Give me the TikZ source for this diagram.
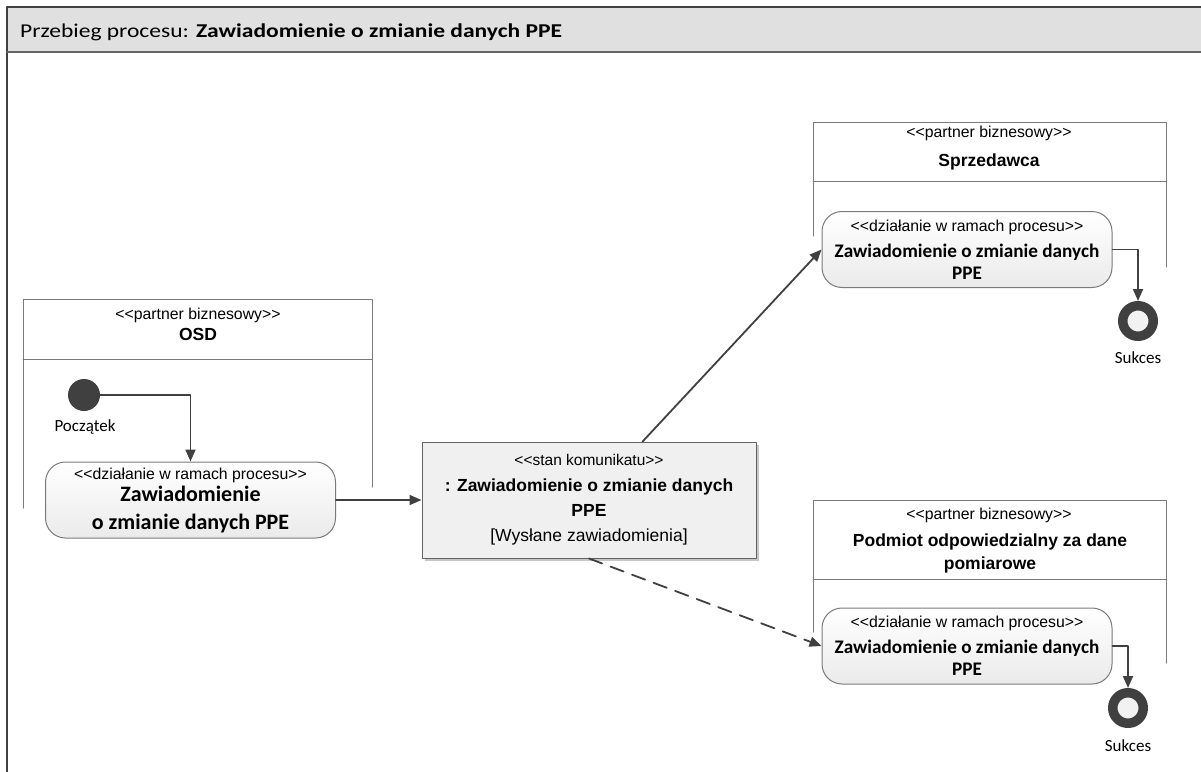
\documentclass[tikz,border=0pt]{standalone}
\usepackage{fontspec}
\setmainfont{Carlito}
\newfontfamily\arialfont{Liberation Sans}
\newfontfamily\titlefont[FakeStretch=1.2]{Carlito}
\usetikzlibrary{arrows.meta,calc,positioning,shadows}
\definecolor{bpline}{HTML}{404040}
\definecolor{bpgrey}{HTML}{7A7A7A}
\definecolor{bphead}{HTML}{E0E0E0}
\definecolor{bpmsg}{HTML}{F0F0F0}
\newcommand\bpstereo{\arialfont\mdseries\fontsize{15.8}{19}\selectfont}
\newcommand\bpname{\arialfont\bfseries\fontsize{17.5}{23}\selectfont}
\newcommand\bpact{\bfseries\fontsize{19.2}{22}\selectfont}
\tikzset{
  every picture/.append style={line cap=round,line join=round},
  bp frame/.style={draw=bpline,line width=1.6pt},
  bp lane/.style={draw=bpgrey,line width=1pt},
  bp action/.style={draw=bpgrey,line width=1pt,rounded corners=20pt,top color=white,
    bottom color=black!8,align=center,inner sep=0pt,minimum width=290pt,minimum height=76pt,
    font=\bpact},
  bp message/.style={draw=bpgrey!80!black,line width=1pt,fill=bpmsg,align=center,inner sep=0pt,
    minimum width=334pt,minimum height=116pt,font=\arialfont\fontsize{15.5}{25}\selectfont,
    drop shadow={shadow xshift=3pt,shadow yshift=-3pt,fill=black!22,opacity=1}},
  bp initial/.style={circle,fill=bpline,minimum size=32pt,inner sep=0pt},
  bp final/.style={circle,draw=bpline,line width=9.5pt,fill=black!5,minimum size=30.5pt,inner sep=0pt},
  bp flow/.style={draw=bpline,line width=1.8pt,-{Triangle[length=12pt,width=10pt]}},
  bp note/.style={font=\fontsize{17}{20}\selectfont,inner sep=0pt},
  bp label/.style={align=center,inner sep=0pt}
}

\begin{document}
\begin{tikzpicture}[x=1pt,y=-1pt]
  \useasboundingbox (0,0) rectangle (1201,771);
  % frame with title band
  \fill[bphead] (7,7) rectangle (1210,52);
  \draw[bp frame] (7,790) -- (7,7) -- (1210,7);
  \draw[bp frame,draw=bpline!80] (7,52) -- (1210,52);
  \node[anchor=base west,inner sep=0pt,font=\titlefont\fontsize{19.6}{22}\selectfont] (title) at (20,37)
    {Przebieg procesu: \textbf{Zawiadomienie o zmianie danych PPE}};

  % partitions: left x / right x / top y / divider y / left end / right end
  \foreach \xl/\xr/\yt/\yd/\el/\er in {23/372/299/359/508/487,
      813/1166/122/181/236/267, 813/1166/500/579/632/663} {
    \draw[bp lane] (\xl,\el) -- (\xl,\yt) -- (\xr,\yt) -- (\xr,\er);
    \draw[bp lane] (\xl,\yd) -- (\xr,\yd);
  }
  \node[bp label,font=\bpstereo] (osdst) at (198,315) {<<partner biznesowy>>};
  \node[bp label,font=\bpname] (osdname) at (198,334) {OSD};
  \node[bp label,font=\bpstereo] (sprzst) at (989,133) {<<partner biznesowy>>};
  \node[bp label,font=\bpname] (sprzname) at (989,162) {Sprzedawca};
  \node[bp label,font=\bpstereo] (podst) at (989,515) {<<partner biznesowy>>};
  \node[bp label,font=\bpname] (podname) at (990,553.5) {Podmiot odpowiedzialny za dane\\pomiarowe};

  % nodes
  \node[bp initial] (start) at (84,395) {};
  \node[bp note] (startlab) at (85,427) {Początek};
  \node[bp action,font=\bfseries\fontsize{22}{28}\selectfont] (osdact) at (190.5,500)
    {{\bpstereo <<działanie w ramach procesu>>}\\[-6pt]
     Zawiadomienie\\o zmianie danych PPE};
  \node[bp message] (msg) at (589,500)
    {<<stan komunikatu>>\\[1pt]
     {\bpname : Zawiadomienie o zmianie danych}\\{\bpname PPE}\\
     {\fontsize{17.5}{25}\selectfont [Wysłane zawiadomienia]}};
  \node[bp action] (sprzact) at (967,249.5)
    {{\bpstereo <<działanie w ramach procesu>>}\\[4pt]
     Zawiadomienie o zmianie danych\\PPE};
  \node[bp action] (podact) at (967,646)
    {{\bpstereo <<działanie w ramach procesu>>}\\[4pt]
     Zawiadomienie o zmianie danych\\PPE};
  \node[bp final] (sprzend) at (1138,321) {};
  \node[bp note] (sprzendlab) at (1138,358) {Sukces};
  \node[bp final] (podend) at (1128,708) {};
  \node[bp note] (podendlab) at (1128,746) {Sukces};

  % flows
  \draw[bp flow] (start) -| (osdact);
  \draw[bp flow] (osdact) -- (msg);
  \draw[bp flow] ($(msg.north west)!0.66!(msg.north east)$) -- (sprzact.west);
  \draw[bp flow,dash pattern=on 14pt off 9pt] (msg.south) -- (podact.west);
  \draw[bp flow] (sprzact.east) -| (sprzend);
  \draw[bp flow] (podact.east) -| (podend);
\end{tikzpicture}
\end{document}
